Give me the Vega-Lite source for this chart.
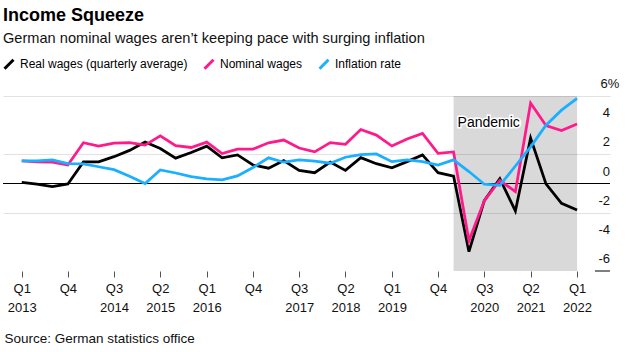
{
  "$schema": "https://vega.github.io/schema/vega-lite/v6.json",
  "width": 607,
  "height": 175,
  "autosize": "none",
  "padding": {"left": 3, "top": 96, "right": 19, "bottom": 81},
  "background": "white",
  "config": {"font": "Liberation Sans", "view": {"stroke": null}},
  "title": {
    "text": "Income Squeeze",
    "subtitle": "German nominal wages aren’t keeping pace with surging inflation",
    "anchor": "start",
    "frame": "group",
    "offset": 12,
    "fontSize": 18,
    "fontWeight": "bold",
    "color": "#000",
    "subtitleFontSize": 14.6,
    "subtitleColor": "#111",
    "subtitlePadding": 6
  },
  "layer": [
    {
      "data": {"values": [{"start": "2020-01-01", "end": "2022-01-01", "label": "Pandemic"}]},
      "mark": {"type": "rect", "fill": "#000", "opacity": 0.15},
      "encoding": {
        "x": {"field": "start", "type": "temporal"},
        "x2": {"field": "end"}
      }
    },
    {
      "data": {"values": [{}]},
      "mark": {"type": "rule", "color": "#000", "strokeWidth": 1},
      "encoding": {"y": {"datum": 0, "type": "quantitative"}}
    },
    {
      "data": {"values": [{}]},
      "mark": {"type": "rule", "color": "#000", "strokeWidth": 1},
      "encoding": {
        "x": {"datum": {"year": 2022, "month": 4, "date": 17, "utc": true}, "type": "temporal"},
        "x2": {"datum": {"year": 2022, "month": 7, "date": 15, "utc": true}},
        "y": {"datum": -6, "type": "quantitative"}
      }
    },
    {
      "data": {
        "values": [
          {"date": "2013-01-01", "real": 0.07, "nominal": 1.55, "inflation": 1.56},
          {"date": "2013-04-01", "real": -0.05, "nominal": 1.48, "inflation": 1.56},
          {"date": "2013-07-01", "real": -0.22, "nominal": 1.47, "inflation": 1.62},
          {"date": "2013-10-01", "real": -0.03, "nominal": 1.27, "inflation": 1.37},
          {"date": "2014-01-01", "real": 1.48, "nominal": 2.8, "inflation": 1.34},
          {"date": "2014-04-01", "real": 1.48, "nominal": 2.57, "inflation": 1.15},
          {"date": "2014-07-01", "real": 1.84, "nominal": 2.77, "inflation": 0.95},
          {"date": "2014-10-01", "real": 2.27, "nominal": 2.81, "inflation": 0.5},
          {"date": "2015-01-01", "real": 2.85, "nominal": 2.63, "inflation": 0.0},
          {"date": "2015-04-01", "real": 2.4, "nominal": 3.27, "inflation": 0.93},
          {"date": "2015-07-01", "real": 1.74, "nominal": 2.59, "inflation": 0.72},
          {"date": "2015-10-01", "real": 2.13, "nominal": 2.47, "inflation": 0.47},
          {"date": "2016-01-01", "real": 2.56, "nominal": 2.84, "inflation": 0.32},
          {"date": "2016-04-01", "real": 1.76, "nominal": 2.05, "inflation": 0.25},
          {"date": "2016-07-01", "real": 1.96, "nominal": 2.35, "inflation": 0.52},
          {"date": "2016-10-01", "real": 1.27, "nominal": 2.36, "inflation": 1.1},
          {"date": "2017-01-01", "real": 1.05, "nominal": 2.79, "inflation": 1.76},
          {"date": "2017-04-01", "real": 1.57, "nominal": 2.98, "inflation": 1.46},
          {"date": "2017-07-01", "real": 0.9, "nominal": 2.43, "inflation": 1.62},
          {"date": "2017-10-01", "real": 0.74, "nominal": 2.17, "inflation": 1.53},
          {"date": "2018-01-01", "real": 1.47, "nominal": 2.8, "inflation": 1.39},
          {"date": "2018-04-01", "real": 0.9, "nominal": 2.69, "inflation": 1.8},
          {"date": "2018-07-01", "real": 1.77, "nominal": 3.7, "inflation": 1.98},
          {"date": "2018-10-01", "real": 1.36, "nominal": 3.32, "inflation": 2.03},
          {"date": "2019-01-01", "real": 1.07, "nominal": 2.57, "inflation": 1.5},
          {"date": "2019-04-01", "real": 1.5, "nominal": 3.05, "inflation": 1.62},
          {"date": "2019-07-01", "real": 1.96, "nominal": 3.43, "inflation": 1.5},
          {"date": "2019-10-01", "real": 0.74, "nominal": 2.07, "inflation": 1.27},
          {"date": "2020-01-01", "real": 0.51, "nominal": 2.16, "inflation": 1.62},
          {"date": "2020-04-01", "real": -4.67, "nominal": -3.93, "inflation": 0.82},
          {"date": "2020-07-01", "real": -1.18, "nominal": -1.18, "inflation": -0.05},
          {"date": "2020-10-01", "real": 0.33, "nominal": 0.22, "inflation": -0.13},
          {"date": "2021-01-01", "real": -1.88, "nominal": -0.56, "inflation": 1.2},
          {"date": "2021-04-01", "real": 3.12, "nominal": 5.52, "inflation": 2.51},
          {"date": "2021-07-01", "real": -0.03, "nominal": 3.97, "inflation": 4.0},
          {"date": "2021-10-01", "real": -1.36, "nominal": 3.63, "inflation": 5.03},
          {"date": "2022-01-01", "real": -1.82, "nominal": 4.08, "inflation": 5.84}
        ]
      },
      "transform": [{"fold": ["real", "nominal", "inflation"], "as": ["series", "value"]}],
      "mark": {"type": "line", "strokeWidth": 2.75},
      "encoding": {
        "x": {
          "field": "date",
          "type": "temporal",
          "scale": {
            "type": "utc",
            "domain": [
              {"year": 2012, "month": 9, "date": 12, "utc": true},
              {"year": 2022, "month": 7, "date": 15, "utc": true}
            ],
            "nice": false
          },
          "axis": {
            "title": "Source: German statistics office",
            "titleAnchor": "start",
            "titleAlign": "left",
            "titleX": 1,
            "titleY": 71,
            "titleBaseline": "alphabetic",
            "titleFontSize": 13.5,
            "titleFontWeight": "normal",
            "titleColor": "#111",
            "values": [
              {"year": 2013, "month": 1, "date": 1, "utc": true},
              {"year": 2013, "month": 10, "date": 1, "utc": true},
              {"year": 2014, "month": 7, "date": 1, "utc": true},
              {"year": 2015, "month": 4, "date": 1, "utc": true},
              {"year": 2016, "month": 1, "date": 1, "utc": true},
              {"year": 2016, "month": 10, "date": 1, "utc": true},
              {"year": 2017, "month": 7, "date": 1, "utc": true},
              {"year": 2018, "month": 4, "date": 1, "utc": true},
              {"year": 2019, "month": 1, "date": 1, "utc": true},
              {"year": 2019, "month": 10, "date": 1, "utc": true},
              {"year": 2020, "month": 7, "date": 1, "utc": true},
              {"year": 2021, "month": 4, "date": 1, "utc": true},
              {"year": 2022, "month": 1, "date": 1, "utc": true}
            ],
            "labelExpr": "utcquarter(datum.value) == 4 ? 'Q4' : ['Q' + utcquarter(datum.value), '' + utcyear(datum.value)]",
            "labelFontSize": 13,
            "labelColor": "#111",
            "labelLineHeight": 19,
            "labelBaseline": "top",
            "labelPadding": 5,
            "labelOverlap": false,
            "labelFlush": false,
            "domain": false,
            "grid": false,
            "ticks": true,
            "tickSize": 6,
            "tickColor": "#555"
          }
        },
        "y": {
          "field": "value",
          "type": "quantitative",
          "scale": {"domain": [-6, 6], "nice": false, "zero": false},
          "axis": {
            "title": null,
            "orient": "right",
            "values": [-6, -4, -2, 0, 2, 4, 6],
            "labels": false,
            "domain": false,
            "ticks": false,
            "grid": true,
            "gridColor": {"condition": {"test": "datum.value == -6", "value": "transparent"}, "value": "#e2e2e2"},
            "gridWidth": 1.2
          }
        },
        "color": {
          "field": "series",
          "type": "nominal",
          "scale": {"domain": ["real", "nominal", "inflation"], "range": ["#000000", "#ff1a8c", "#1ab0ff"]},
          "legend": {
            "title": null,
            "orient": "none",
            "direction": "horizontal",
            "legendX": 0,
            "legendY": -38,
            "padding": 0,
            "symbolType": "M-1,1L1,-1",
            "symbolSize": 80,
            "symbolStrokeWidth": 3,
            "labelFontSize": 12,
            "labelLimit": 0,
            "labelColor": "#000",
            "labelOffset": 5,
            "columnPadding": 10,
            "labelExpr": "datum.value == 'real' ? 'Real wages (quarterly average)' : datum.value == 'nominal' ? 'Nominal wages' : 'Inflation rate'"
          }
        }
      }
    },
    {
      "data": {"values": [
        {"v": 4, "t": "4"}, {"v": 2, "t": "2"}, {"v": 0, "t": "0"},
        {"v": -2, "t": "-2"}, {"v": -4, "t": "-4"}, {"v": -6, "t": "-6"}
      ]},
      "mark": {"type": "text", "align": "right", "baseline": "middle", "dy": -12, "fontSize": 13, "fill": "#111"},
      "encoding": {
        "x": {"datum": {"year": 2022, "month": 7, "date": 15, "utc": true}, "type": "temporal"},
        "y": {"field": "v", "type": "quantitative"},
        "text": {"field": "t"}
      }
    },
    {
      "data": {"values": [{"v": 6, "t": "6%"}]},
      "mark": {"type": "text", "align": "center", "baseline": "middle", "dy": -12, "fontSize": 13, "fill": "#111"},
      "encoding": {
        "x": {"datum": {"year": 2022, "month": 7, "date": 15, "utc": true}, "type": "temporal"},
        "y": {"field": "v", "type": "quantitative"},
        "text": {"field": "t"}
      }
    },
    {
      "data": {"values": [{"start": "2020-01-01", "label": "Pandemic"}]},
      "mark": {"type": "text", "align": "left", "baseline": "middle", "dx": 4, "fontSize": 14, "stroke": "white", "strokeWidth": 3, "fill": "white"},
      "encoding": {
        "x": {"field": "start", "type": "temporal"},
        "y": {"datum": 4.15, "type": "quantitative"},
        "text": {"field": "label"}
      }
    },
    {
      "data": {"values": [{"start": "2020-01-01", "label": "Pandemic"}]},
      "mark": {"type": "text", "align": "left", "baseline": "middle", "dx": 4, "fontSize": 14, "fill": "#000"},
      "encoding": {
        "x": {"field": "start", "type": "temporal"},
        "y": {"datum": 4.15, "type": "quantitative"},
        "text": {"field": "label"}
      }
    }
  ]
}
